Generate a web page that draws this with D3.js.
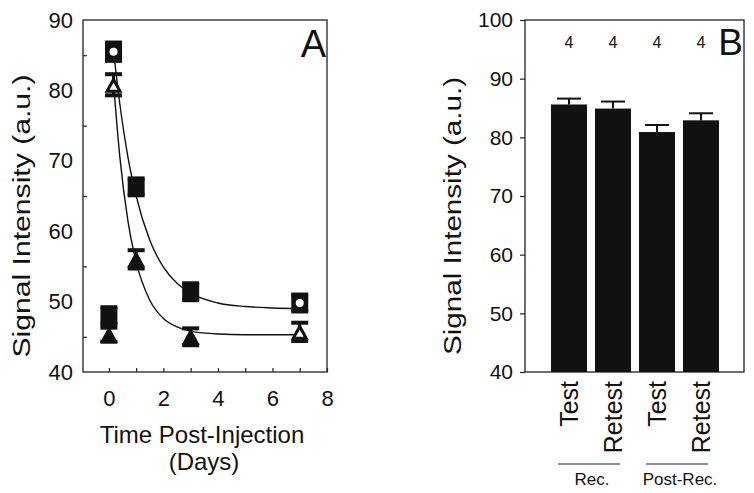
<!DOCTYPE html>
<html><head><meta charset="utf-8">
<script src="https://cdn.jsdelivr.net/npm/d3@7"></script>
<style>
html,body{margin:0;padding:0;background:#fff;}
text{font-family:"Liberation Sans",Arial,sans-serif;fill:#111;}
</style></head>
<body><svg id="c" width="754" height="493"></svg>
<script>
// ---------- Panel A data ----------
const timesA = [0, 0.17, 1, 3, 7];
const upperV = [48.0, 85.5, 66.3, 51.4, 49.8];
const upperErr = [1.2, 1.3, 1.2, 1.2, 1.2];
const upperOpen = [false, true, false, false, true];
const lowerV = [45.3, 80.8, 56.0, 45.0, 45.7];
const lowerErr = [1.0, 1.5, 1.3, 1.2, 1.3];
const lowerOpen = [false, true, false, false, true];
const curveT = [0.17, 0.4, 0.7, 1, 1.5, 2, 2.5, 3, 4, 5, 6, 7];
const upperCurve = [85.6, 78.1, 70.5, 65.0, 58.7, 54.9, 52.6, 51.2, 49.8, 49.3, 49.1, 49.0];
const lowerCurve = [81.0, 70.6, 61.4, 55.6, 50.2, 47.6, 46.4, 45.8, 45.4, 45.3, 45.3, 45.3];
const xTicksA = [0, 1, 2, 3, 4, 5, 6, 7, 8];
const yTicksA = [40, 50, 60, 70, 80, 90];
const yMinorA = [45, 55, 65, 75, 85];

// ---------- Panel B data ----------
const categoriesB = ["Test", "Retest", "Test", "Retest"];
const valuesB = [85.6, 84.9, 80.9, 82.9];
const errorsB = [1.0, 1.2, 1.2, 1.2];
const countsB = ["4", "4", "4", "4"];
const groupsB = [{name: "Rec.", from: 1, to: 2}, {name: "Post-Rec.", from: 3, to: 4}];
const yTicksB = [40, 50, 60, 70, 80, 90, 100];

const svg = d3.select("#c");

// ================= Panel A =================
const xA = d3.scaleLinear().domain([-0.95, 8]).range([83, 327]);
const yA = d3.scaleLinear().domain([40, 90]).range([372, 20]);

svg.append("rect").attr("x", 83).attr("y", 20).attr("width", 244).attr("height", 352)
  .attr("fill", "none").attr("stroke", "#222").attr("stroke-width", 1.3);

// x axis: inward ticks at every integer, labels at even
const gxA = svg.append("g").attr("transform", "translate(0,372)")
  .call(d3.axisBottom(xA).tickValues(xTicksA).tickSizeInner(-4).tickSizeOuter(0).tickPadding(18)
    .tickFormat(d => d % 2 === 0 ? d : ""));
gxA.select(".domain").remove();
gxA.selectAll("line").attr("stroke", "#222").attr("stroke-width", 1.2);
gxA.selectAll("text").attr("font-size", 22).style("font-family", "Liberation Sans, Arial, sans-serif").attr("fill", "#111");

// y axis labels
const gyA = svg.append("g").attr("transform", "translate(83,0)")
  .call(d3.axisLeft(yA).tickValues(yTicksA).tickSize(0).tickPadding(10));
gyA.select(".domain").remove();
gyA.selectAll("text").attr("font-size", 22).style("font-family", "Liberation Sans, Arial, sans-serif").attr("fill", "#111");
// y minor inward ticks
const gyA2 = svg.append("g").attr("transform", "translate(83,0)")
  .call(d3.axisLeft(yA).tickValues(yMinorA).tickSizeInner(-4).tickSizeOuter(0).tickFormat(""));
gyA2.select(".domain").remove();
gyA2.selectAll("line").attr("stroke", "#222").attr("stroke-width", 1.2);

// fitted curves
const line = d3.line().x(d => xA(d[0])).y(d => yA(d[1])).curve(d3.curveMonotoneX);
[upperCurve, lowerCurve].forEach(c => {
  svg.append("path").attr("d", line(curveT.map((t, i) => [t, c[i]])))
    .attr("fill", "none").attr("stroke", "#111").attr("stroke-width", 1.4);
});

// markers
function errBar(g, cx, v, e) {
  const y1 = yA(v + e), y2 = yA(v - e);
  g.append("line").attr("x1", cx).attr("x2", cx).attr("y1", y1).attr("y2", y2)
    .attr("stroke", "#111").attr("stroke-width", 3);
  [y1, y2].forEach(yy => g.append("rect").attr("x", cx - 8.5).attr("y", yy - 2).attr("width", 17).attr("height", 4).attr("fill", "#111"));
}
const ptsA = svg.append("g");
timesA.forEach((t, i) => {
  const cx = xA(t);
  // squares / circles (upper series)
  errBar(ptsA, cx, upperV[i], upperErr[i]);
  const cy = yA(upperV[i]);
  ptsA.append("rect").attr("x", cx - 8.5).attr("y", cy - 8.5).attr("width", 17).attr("height", 17).attr("fill", "#111");
  if (upperOpen[i]) ptsA.append("circle").attr("cx", cx).attr("cy", cy).attr("r", 4).attr("fill", "#fff");
});
timesA.forEach((t, i) => {
  const cx = xA(t);
  errBar(ptsA, cx, lowerV[i], lowerErr[i]);
  const cy = yA(lowerV[i]);
  ptsA.append("path").attr("d", `M${cx},${cy - 8.5}L${cx + 9},${cy + 8}L${cx - 9},${cy + 8}Z`).attr("fill", "#111");
  if (lowerOpen[i]) ptsA.append("path").attr("d", `M${cx},${cy - 2}L${cx + 4},${cy + 5}L${cx - 4},${cy + 5}Z`).attr("fill", "#fff");
});

svg.append("text").attr("x", 326).attr("y", 57).attr("text-anchor", "end").attr("font-size", 38).text("A");

svg.append("text").attr("transform", "translate(30,216) rotate(-90)").attr("text-anchor", "middle")
  .attr("font-size", 23).attr("textLength", 283).attr("lengthAdjust", "spacingAndGlyphs").text("Signal Intensity (a.u.)");
svg.append("text").attr("x", 202).attr("y", 443).attr("text-anchor", "middle").attr("font-size", 24).text("Time Post-Injection");
svg.append("text").attr("x", 204).attr("y", 470).attr("text-anchor", "middle").attr("font-size", 24).text("(Days)");

// ================= Panel B =================
const xB = d3.scaleLinear().domain([0, 5]).range([525, 745]);
const yB = d3.scaleLinear().domain([40, 100]).range([372, 20]);

svg.append("rect").attr("x", 525).attr("y", 20).attr("width", 219).attr("height", 352)
  .attr("fill", "none").attr("stroke", "#222").attr("stroke-width", 1.3);

const gyB = svg.append("g").attr("transform", "translate(525,0)")
  .call(d3.axisLeft(yB).tickValues(yTicksB).tickSizeInner(5).tickSizeOuter(0).tickPadding(7));
gyB.select(".domain").remove();
gyB.selectAll("line").attr("stroke", "#222").attr("stroke-width", 1.2);
gyB.selectAll("text").attr("font-size", 21).style("font-family", "Liberation Sans, Arial, sans-serif").attr("fill", "#111");

const bw = 36;
valuesB.forEach((v, i) => {
  const cx = xB(i + 1);
  const yt = yB(v + errorsB[i]);
  svg.append("line").attr("x1", cx).attr("x2", cx).attr("y1", yt).attr("y2", yB(v)).attr("stroke", "#111").attr("stroke-width", 2);
  svg.append("line").attr("x1", cx - 12).attr("x2", cx + 12).attr("y1", yt).attr("y2", yt).attr("stroke", "#111").attr("stroke-width", 2);
  svg.append("rect").attr("x", cx - bw / 2).attr("y", yB(v)).attr("width", bw).attr("height", yB(40) - yB(v)).attr("fill", "#111");
  svg.append("text").attr("x", cx).attr("y", 48).attr("text-anchor", "middle").attr("font-size", 16).text(countsB[i]);
  svg.append("text").attr("transform", `translate(${cx + 9},381) rotate(-90)`).attr("text-anchor", "end")
    .attr("font-size", 25).text(categoriesB[i]);
});

groupsB.forEach(g => {
  const x1 = xB(g.from) - 11, x2 = xB(g.to) + 7;
  svg.append("line").attr("x1", x1).attr("x2", x2).attr("y1", 464).attr("y2", 464).attr("stroke", "#222").attr("stroke-width", 1.2);
  svg.append("text").attr("x", (x1 + x2) / 2 + 3).attr("y", 485).attr("text-anchor", "middle").attr("font-size", 17).text(g.name);
});

svg.append("text").attr("x", 743).attr("y", 55).attr("text-anchor", "end").attr("font-size", 37).text("B");

svg.append("text").attr("transform", "translate(461,216) rotate(-90)").attr("text-anchor", "middle")
  .attr("font-size", 23).attr("textLength", 278).attr("lengthAdjust", "spacingAndGlyphs").text("Signal Intensity (a.u.)");
</script>
</body></html>
